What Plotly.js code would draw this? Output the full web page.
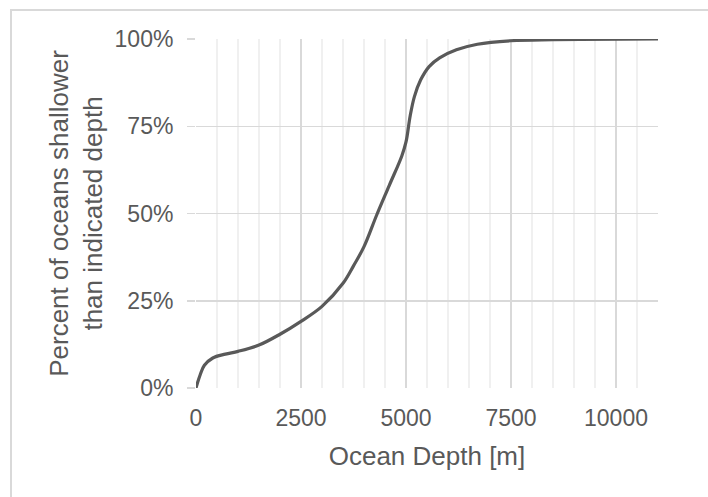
<!DOCTYPE html>
<html>
<head>
<meta charset="utf-8">
<script src="https://cdn.plot.ly/plotly-3.0.1.min.js"></script>
<style>
  html, body { margin: 0; padding: 0; background: #ffffff; }
  #wrap { position: relative; width: 708px; height: 497px; overflow: hidden; }
  #chart { width: 708px; height: 497px; }
  #frame { position: absolute; left: 10px; top: 9px; width: 760px; height: 560px;
           border-left: 2px solid #d9d9d9; border-top: 2px solid #d9d9d9; pointer-events: none; }
</style>
</head>
<body>
<div id="wrap">
  <div id="chart"></div>
  <div id="frame"></div>
</div>
<script>
// Ocean depth (m) and cumulative fraction of ocean shallower than that depth
const depthMeters = [0, 100, 200, 400, 700, 1000, 1500, 2000, 2500, 3000, 3500, 3750, 4000, 4300, 4600, 4900, 5000, 5100, 5200, 5350, 5550, 5800, 6200, 6700, 7500, 8500, 11000];
const fractionShallower = [0, 0.038, 0.065, 0.086, 0.097, 0.105, 0.123, 0.154, 0.191, 0.234, 0.300, 0.350, 0.405, 0.495, 0.580, 0.665, 0.705, 0.780, 0.835, 0.883, 0.921, 0.946, 0.969, 0.985, 0.995, 0.998, 1.0];
const xTickValues = [0, 2500, 5000, 7500, 10000];
const yTickValues = [0, 0.25, 0.5, 0.75, 1];

const textColor = '#595959';
const fontFamily = '"Liberation Sans", Arial, sans-serif';

const trace = {
  x: depthMeters,
  y: fractionShallower,
  type: 'scatter',
  mode: 'lines',
  line: { color: '#595959', width: 3.2, shape: 'spline', smoothing: 1 },
  hoverinfo: 'skip',
  showlegend: false
};

const layout = {
  width: 708,
  height: 497,
  margin: { l: 196, r: 50, t: 39, b: 109 },
  paper_bgcolor: '#ffffff',
  plot_bgcolor: '#ffffff',
  font: { family: fontFamily, color: textColor, size: 23 },
  xaxis: {
    range: [0, 11000],
    tickmode: 'array',
    tickvals: xTickValues,
    ticktext: xTickValues.map(String),
    showgrid: true,
    gridcolor: '#d9d9d9',
    gridwidth: 1.5,
    minor: { dtick: 500, tick0: 0, showgrid: true, gridcolor: '#f0f0f0', gridwidth: 1.3, ticks: '' },
    zeroline: false,
    showline: false,
    ticks: '',
    ticklabelstandoff: 14,
    tickfont: { size: 23, color: textColor, family: fontFamily },
    title: { text: 'Ocean Depth [m]', font: { size: 26, color: textColor, family: fontFamily }, standoff: 16 },
    fixedrange: true
  },
  yaxis: {
    range: [0, 1],
    tickmode: 'array',
    tickvals: yTickValues,
    tickformat: '.0%',
    showgrid: true,
    gridcolor: '#d9d9d9',
    gridwidth: 1.5,
    zeroline: false,
    showline: false,
    ticks: 'outside',
    ticklen: 8,
    tickwidth: 1.5,
    tickcolor: '#d9d9d9',
    ticklabelstandoff: 9,
    tickfont: { size: 23, color: textColor, family: fontFamily },
    title: { text: 'Percent of oceans shallower<br>than indicated depth', font: { size: 26, color: textColor, family: fontFamily }, standoff: 4 },
    fixedrange: true
  }
};

Plotly.newPlot('chart', [trace], layout, { displayModeBar: false, staticPlot: true });
</script>
</body>
</html>
